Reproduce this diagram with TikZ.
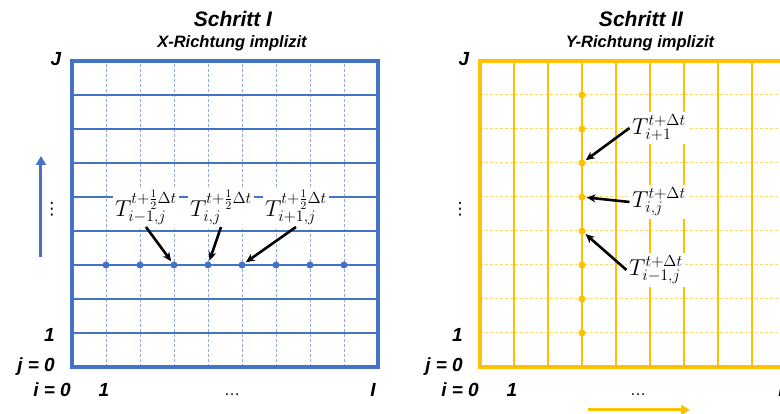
\RequirePackage{fix-cm}
\documentclass[tikz,border=0pt]{standalone}
\usepackage{fontspec}
\newfontfamily\arialfont{Liberation Sans}
\newfontfamily\symbolfont{DejaVu Sans}
\usetikzlibrary{arrows.meta}
\definecolor{gitterblau}{HTML}{4472C4}
\definecolor{gitterblauhell}{HTML}{8FAADC}
\definecolor{gittergold}{HTML}{FFC000}
\definecolor{gittergoldhell}{HTML}{FFD966}
\begin{document}
\begin{tikzpicture}[x=1pt, y=1pt,
  achse/.style={font=\arialfont\bfseries\itshape\fontsize{19}{20}\selectfont, inner sep=0pt},
  titel/.style={font=\arialfont\bfseries\itshape\fontsize{21}{23}\selectfont, inner sep=0pt},
  untertitel/.style={font=\arialfont\bfseries\itshape\fontsize{16.5}{18}\selectfont, inner sep=0pt},
  punkte/.style={font=\arialfont\fontsize{16}{18}\selectfont, inner sep=0pt},
  vpunkte/.style={font=\symbolfont\fontsize{17}{18}\selectfont, inner sep=0pt},
  knoten/.style={circle, fill=#1, inner sep=0pt, minimum size=7pt},
  wert/.style={fill=white, inner sep=2.5pt, font=\fontsize{23}{25}\selectfont},
  zeiger/.style={-{Stealth[length=9pt,width=8pt]}, line width=2.6pt, shorten >=1pt},
  richtung/.style={-{Triangle[length=9pt,width=10pt]}, line width=3pt, draw=#1}]
  \def\h{34}
  \useasboundingbox (-72,-47) rectangle (708,367);
  % Schritt I: Gitter
  \foreach \i in {1,...,8}
    \draw[gitterblauhell, dash pattern=on 3pt off 2pt, line width=0.9pt]
      (\i*\h,0) -- (\i*\h,9*\h);
  \foreach \j in {1,...,8}
    \draw[gitterblau, line width=2.2pt] (0,\j*\h) -- (9*\h,\j*\h);
  \draw[gitterblau, line width=4pt] (0,0) rectangle (9*\h,9*\h);
  % Schritt I: Knoten in Zeile j
  \foreach \i in {1,...,8}
    \node[knoten=gitterblau] (a\i) at (\i*\h,3*\h) {};
  % Schritt I: Werte
  \node[wert] (la) at (74,160) {$T^{t+\frac{1}{2}\Delta t}_{i-1,j}$};
  \node[wert] (lb) at (149,160) {$T^{t+\frac{1}{2}\Delta t}_{i,j}$};
  \node[wert] (lc) at (224,160) {$T^{t+\frac{1}{2}\Delta t}_{i+1,j}$};
  \draw[zeiger] (la.south) -- (a3);
  \draw[zeiger] (lb.south) -- (a4);
  \draw[zeiger] (lc.south) -- (a5);
  % Schritt I: Beschriftung
  \node[titel] (t1) at (161,348) {Schritt I};
  \node[untertitel] (u1) at (160,324) {X-Richtung implizit};
  \node[achse] (J1) at (-16,308) {J};
  \node[achse, anchor=east] (ja1) at (-17,32) {1};
  \node[achse, anchor=east] (jn1) at (-17,0) {j = 0};
  \node[achse] (in1) at (-20,-23) {i = 0};
  \node[achse] (ia1) at (32,-23) {1};
  \node[punkte] (ip1) at (160,-28) {…};
  \node[achse] (iI1) at (301,-23) {I};
  \node[vpunkte] (jp1) at (-20,158) {⋮};
  \coordinate (auf0) at (-31,110);
  \coordinate (auf1) at (-31,211);
  \draw[richtung=gitterblau] (auf0) -- (auf1);
  % Schritt II
  \begin{scope}[xshift=408pt]
    \foreach \j in {1,...,8}
      \draw[gittergoldhell, dash pattern=on 3pt off 2pt, line width=1pt]
        (0,\j*\h) -- (9*\h,\j*\h);
    \foreach \i in {1,...,8}
      \draw[gittergold, line width=2.6pt] (\i*\h,0) -- (\i*\h,9*\h);
    \draw[gittergold, line width=4pt] (0,0) rectangle (9*\h,9*\h);
    % Schritt II: Knoten in Spalte i
    \foreach \j in {1,...,8}
      \node[knoten=gittergold] (b\j) at (3*\h,\j*\h) {};
    % Schritt II: Werte
    \node[wert] (ra) at (179,239) {$T^{t+\Delta t}_{i+1}$};
    \node[wert] (rb) at (179,165) {$T^{t+\Delta t}_{i,j}$};
    \node[wert] (rc) at (176,97) {$T^{t+\Delta t}_{i-1,j}$};
    \draw[zeiger] (ra.west) -- (b6);
    \draw[zeiger] (rb.west) -- (b5);
    \draw[zeiger] (rc.west) -- (b4);
    % Schritt II: Beschriftung
    \node[titel] (t2) at (161,348) {Schritt II};
    \node[untertitel] (u2) at (160,324) {Y-Richtung implizit};
    \node[achse] (J2) at (-16,308) {J};
    \node[achse, anchor=east] (ja2) at (-17,32) {1};
    \node[achse, anchor=east] (jn2) at (-17,0) {j = 0};
    \node[achse] (in2) at (-20,-23) {i = 0};
    \node[achse] (ia2) at (32,-23) {1};
    \node[punkte] (ip2) at (158,-28) {…};
    \node[achse] (iI2) at (301,-23) {I};
    \node[vpunkte] (jp2) at (-20,158) {⋮};
    \coordinate (rechts0) at (108,-43);
    \coordinate (rechts1) at (210,-43);
    \draw[richtung=gittergold] (rechts0) -- (rechts1);
  \end{scope}
\end{tikzpicture}
\end{document}
